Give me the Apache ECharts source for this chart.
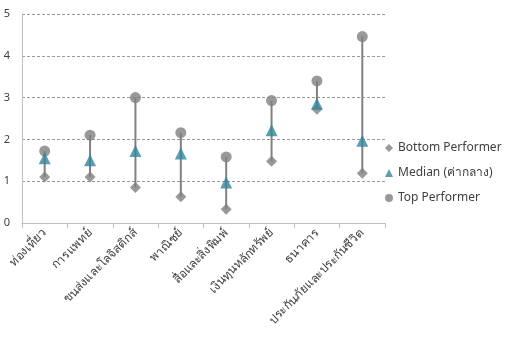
<!DOCTYPE html>
<html>
<head>
<meta charset="utf-8">
<script src="https://cdn.jsdelivr.net/npm/echarts@6/dist/echarts.min.js"></script>
<style>
  html, body { margin: 0; padding: 0; background: #fff; }
  #chart { width: 509px; height: 346px; }
</style>
</head>
<body>
<div id="chart"></div>
<script>
// Sector categories and performer scores
var categories = ['ท่องเที่ยว', 'การแพทย์', 'ขนส่งและโลจิสติกส์', 'พาณิชย์', 'สื่อและสิ่งพิมพ์', 'เงินทุนหลักทรัพย์', 'ธนาคาร', 'ประกันภัยและประกันชีวิต'];
var bottomPerformer = [1.1, 1.1, 0.85, 0.63, 0.33, 1.48, 2.72, 1.19];
var medianValues = [1.55, 1.5, 1.72, 1.66, 0.97, 2.22, 2.85, 1.97];
var topPerformer = [1.72, 2.1, 3.0, 2.16, 1.58, 2.93, 3.4, 4.46];
var yTicks = [0, 1, 2, 3, 4, 5];

var grey = '#808080';
var teal = '#31869b';
var font = '"Noto Sans", "DejaVu Sans", sans-serif';

// Range rows: [categoryIndex, low, high]
var rangeRows = categories.map(function (c, i) { return [i, bottomPerformer[i], topPerformer[i]]; });

var chart = echarts.init(document.getElementById('chart'), null, { renderer: 'canvas' });
chart.setOption({
  animation: false,
  backgroundColor: '#fff',
  grid: { left: 22, right: 124, top: 14, bottom: 123, containLabel: false },
  legend: {
    orient: 'vertical',
    left: 380,
    top: 137,
    itemGap: 13,
    itemWidth: 8,
    itemHeight: 8,
    textStyle: { fontFamily: font, fontSize: 12, color: '#404040' },
    data: ['Bottom Performer', 'Median (ค่ากลาง)', 'Top Performer']
  },
  xAxis: {
    type: 'category',
    data: categories,
    boundaryGap: true,
    axisLine: { lineStyle: { color: '#bfbfbf', width: 1 } },
    axisTick: { show: true, length: 5, lineStyle: { color: '#bfbfbf' } },
    axisLabel: { rotate: 45, fontFamily: font, fontSize: 12, color: '#404040', margin: 8, interval: 0 },
    splitLine: { show: false }
  },
  yAxis: {
    type: 'value',
    min: yTicks[0],
    max: yTicks[yTicks.length - 1],
    interval: 1,
    axisLine: { show: true, lineStyle: { color: '#bfbfbf' } },
    axisTick: { show: false },
    axisLabel: { fontFamily: font, fontSize: 11, color: '#404040', margin: 12 },
    splitLine: { lineStyle: { color: '#999999', type: [3, 2], width: 1 } }
  },
  series: [
    {
      name: 'range',
      type: 'custom',
      data: rangeRows,
      z: 1,
      renderItem: function (params, api) {
        var p1 = api.coord([api.value(0), api.value(1)]);
        var p2 = api.coord([api.value(0), api.value(2)]);
        return {
          type: 'line',
          shape: { x1: p1[0], y1: p1[1], x2: p2[0], y2: p2[1] },
          style: { stroke: grey, lineWidth: 2 }
        };
      }
    },
    {
      name: 'Bottom Performer',
      type: 'scatter',
      data: bottomPerformer,
      symbol: 'diamond',
      symbolSize: 11,
      itemStyle: { color: grey },
      z: 3
    },
    {
      name: 'Top Performer',
      type: 'scatter',
      data: topPerformer,
      symbol: 'circle',
      symbolSize: 11,
      itemStyle: { color: grey },
      z: 3
    },
    {
      name: 'Median (ค่ากลาง)',
      type: 'scatter',
      data: medianValues,
      symbol: 'triangle',
      symbolSize: 12,
      itemStyle: { color: teal },
      z: 4
    }
  ]
});
</script>
</body>
</html>
